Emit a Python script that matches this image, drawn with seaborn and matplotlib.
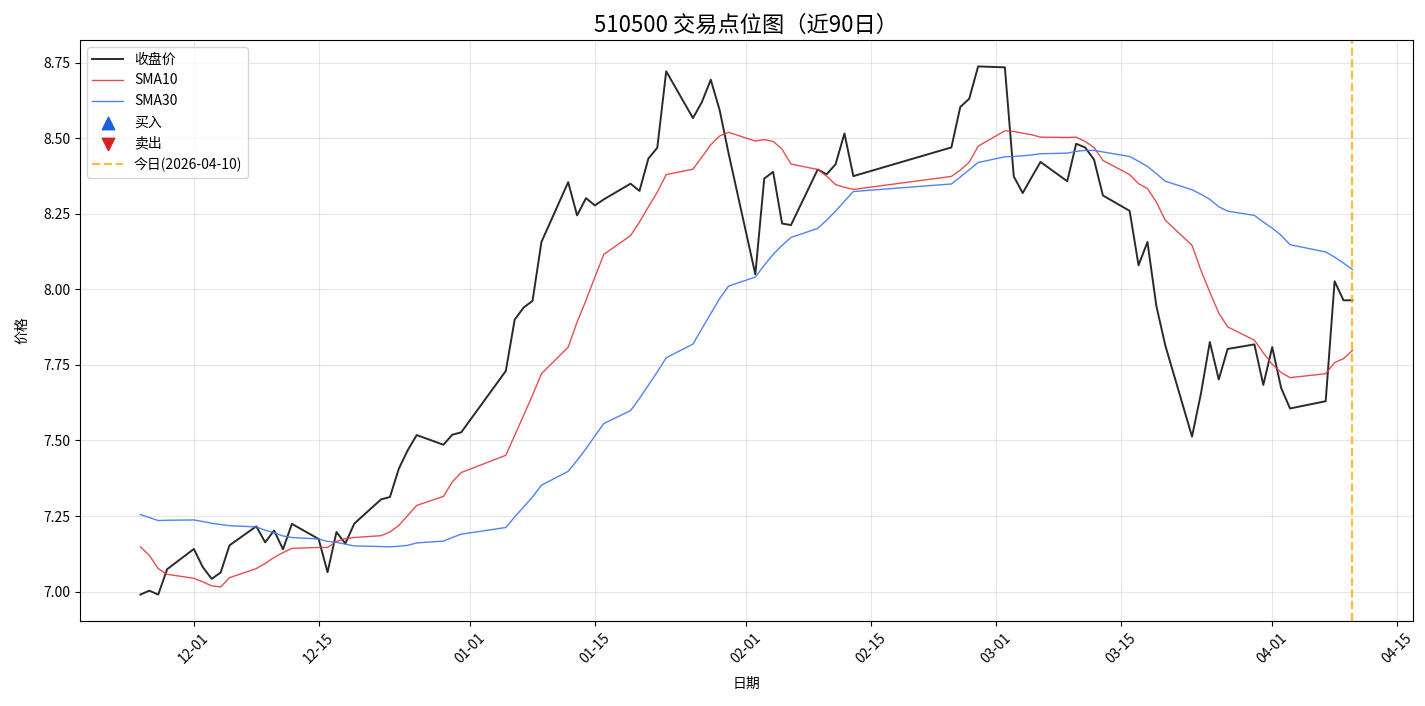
import matplotlib
matplotlib.use("Agg")
import matplotlib.pyplot as plt
import matplotlib.dates as mdates
import pandas as pd
import seaborn as sns

# trading days shown (近90日)
dates = pd.to_datetime([
    "2025-11-25", "2025-11-26", "2025-11-27", "2025-11-28",
    "2025-12-01", "2025-12-02", "2025-12-03", "2025-12-04", "2025-12-05",
    "2025-12-08", "2025-12-09", "2025-12-10", "2025-12-11", "2025-12-12",
    "2025-12-15", "2025-12-16", "2025-12-17", "2025-12-18", "2025-12-19",
    "2025-12-22", "2025-12-23", "2025-12-24", "2025-12-25", "2025-12-26",
    "2025-12-29", "2025-12-30", "2025-12-31",
    "2026-01-05", "2026-01-06", "2026-01-07", "2026-01-08", "2026-01-09",
    "2026-01-12", "2026-01-13", "2026-01-14", "2026-01-15", "2026-01-16",
    "2026-01-19", "2026-01-20", "2026-01-21", "2026-01-22", "2026-01-23",
    "2026-01-26", "2026-01-27", "2026-01-28", "2026-01-29", "2026-01-30",
    "2026-02-02", "2026-02-03", "2026-02-04", "2026-02-05", "2026-02-06",
    "2026-02-09", "2026-02-10", "2026-02-11", "2026-02-12", "2026-02-13",
    "2026-02-24", "2026-02-25", "2026-02-26", "2026-02-27",
    "2026-03-02", "2026-03-03", "2026-03-04", "2026-03-05", "2026-03-06",
    "2026-03-09", "2026-03-10", "2026-03-11", "2026-03-12", "2026-03-13",
    "2026-03-16", "2026-03-17", "2026-03-18", "2026-03-19", "2026-03-20",
    "2026-03-23", "2026-03-24", "2026-03-25", "2026-03-26", "2026-03-27",
    "2026-03-30", "2026-03-31",
    "2026-04-01", "2026-04-02", "2026-04-03",
    "2026-04-07", "2026-04-08", "2026-04-09", "2026-04-10",
])

close = [
    6.990, 7.003, 6.990, 7.074,
    7.141, 7.081, 7.042, 7.063, 7.153,
    7.216, 7.163, 7.202, 7.140, 7.224,
    7.174, 7.064, 7.197, 7.159, 7.225,
    7.305, 7.313, 7.407, 7.468, 7.518,
    7.486, 7.519, 7.527,
    7.730, 7.900, 7.940, 7.962, 8.157,
    8.355, 8.245, 8.302, 8.278, 8.298,
    8.350, 8.326, 8.433, 8.469, 8.722,
    8.567, 8.620, 8.694, 8.593, 8.450,
    8.050, 8.367, 8.389, 8.218, 8.213,
    8.397, 8.381, 8.414, 8.516, 8.375,
    8.470, 8.604, 8.631, 8.738,
    8.735, 8.374, 8.319, 8.371, 8.422,
    8.358, 8.482, 8.470, 8.430, 8.311,
    8.260, 8.080, 8.157, 7.945, 7.815,
    7.513, 7.655, 7.826, 7.702, 7.803,
    7.818, 7.684,
    7.809, 7.674, 7.606,
    7.630, 8.027, 7.964, 7.964,
]

sma10 = [
    7.148, 7.120, 7.076, 7.057,
    7.044, 7.032, 7.019, 7.015, 7.046,
    7.076, 7.093, 7.113, 7.129, 7.143,
    7.146, 7.146, 7.166, 7.175, 7.179,
    7.185, 7.197, 7.219, 7.252, 7.285,
    7.315, 7.363, 7.394,
    7.451, 7.517, 7.583, 7.650, 7.721,
    7.809, 7.892, 7.964, 8.041, 8.116,
    8.178, 8.223, 8.273, 8.322, 8.380,
    8.398, 8.438, 8.479, 8.508, 8.520,
    8.491, 8.496, 8.490, 8.464, 8.415,
    8.397, 8.375, 8.347, 8.338, 8.331,
    8.374, 8.395, 8.421, 8.474,
    8.525, 8.523, 8.517, 8.512, 8.504,
    8.503, 8.504, 8.490, 8.470, 8.427,
    8.380, 8.350, 8.334, 8.289, 8.229,
    8.146, 8.063, 7.991, 7.922, 7.876,
    7.832, 7.790,
    7.752, 7.725, 7.708,
    7.721, 7.758, 7.771, 7.798,
]

sma30 = [
    7.255, 7.245, 7.235, 7.236,
    7.237, 7.232, 7.226, 7.222, 7.218,
    7.214, 7.203, 7.195, 7.184, 7.179,
    7.174, 7.166, 7.163, 7.157, 7.151,
    7.149, 7.148, 7.150, 7.153, 7.161,
    7.167, 7.179, 7.190,
    7.212, 7.247, 7.280, 7.313, 7.352,
    7.398, 7.434, 7.473, 7.515, 7.556,
    7.599, 7.639, 7.683, 7.727, 7.774,
    7.819, 7.870, 7.920, 7.970, 8.011,
    8.041, 8.080, 8.116, 8.146, 8.172,
    8.202, 8.229, 8.259, 8.292, 8.324,
    8.349, 8.372, 8.396, 8.420,
    8.439, 8.440, 8.442, 8.445, 8.449,
    8.451, 8.457, 8.460, 8.460, 8.455,
    8.440, 8.424, 8.407, 8.383, 8.358,
    8.330, 8.315, 8.298, 8.274, 8.259,
    8.245, 8.223,
    8.203, 8.179, 8.148,
    8.124, 8.107, 8.087, 8.066,
]

today = pd.Timestamp("2026-04-10")

plt.rcParams['font.family'] = ['Noto Sans CJK SC', 'DejaVu Sans']
plt.rcParams['axes.unicode_minus'] = False

fig, ax = plt.subplots(figsize=(14.25, 7.06), dpi=100)
fig.subplots_adjust(left=0.056, right=0.9916, bottom=0.1204, top=0.9433)

sns.lineplot(x=dates, y=close, ax=ax, color='#2a2a2a', linewidth=1.4, label='收盘价')
sns.lineplot(x=dates, y=sma10, ax=ax, color='#e03c3c', alpha=0.9, linewidth=1.0, label='SMA10')
sns.lineplot(x=dates, y=sma30, ax=ax, color='#3b76f0', alpha=0.9, linewidth=1.0, label='SMA30')

# no signals in this window, keep legend entries
ax.scatter([], [], marker='^', color='#1a5fe0', s=80, label='买入')
ax.scatter([], [], marker='v', color='#d62424', s=80, label='卖出')

ax.axvline(today, color='orange', linestyle='--', linewidth=1.6, alpha=0.75,
           label=f'今日({today:%Y-%m-%d})')

ax.xaxis.set_major_locator(mdates.DayLocator(bymonthday=[1, 15]))
ax.xaxis.set_major_formatter(mdates.DateFormatter('%m-%d'))
plt.setp(ax.get_xticklabels(), rotation=45)

ax.set_title('510500 交易点位图（近90日）', fontsize=16)
ax.set_xlabel('日期', labelpad=8)
ax.set_ylabel('价格', labelpad=10)
ax.grid(True, alpha=0.3)
ax.legend(loc='upper left', fontsize=10, handlelength=2.2)

plt.savefig('out.png')
